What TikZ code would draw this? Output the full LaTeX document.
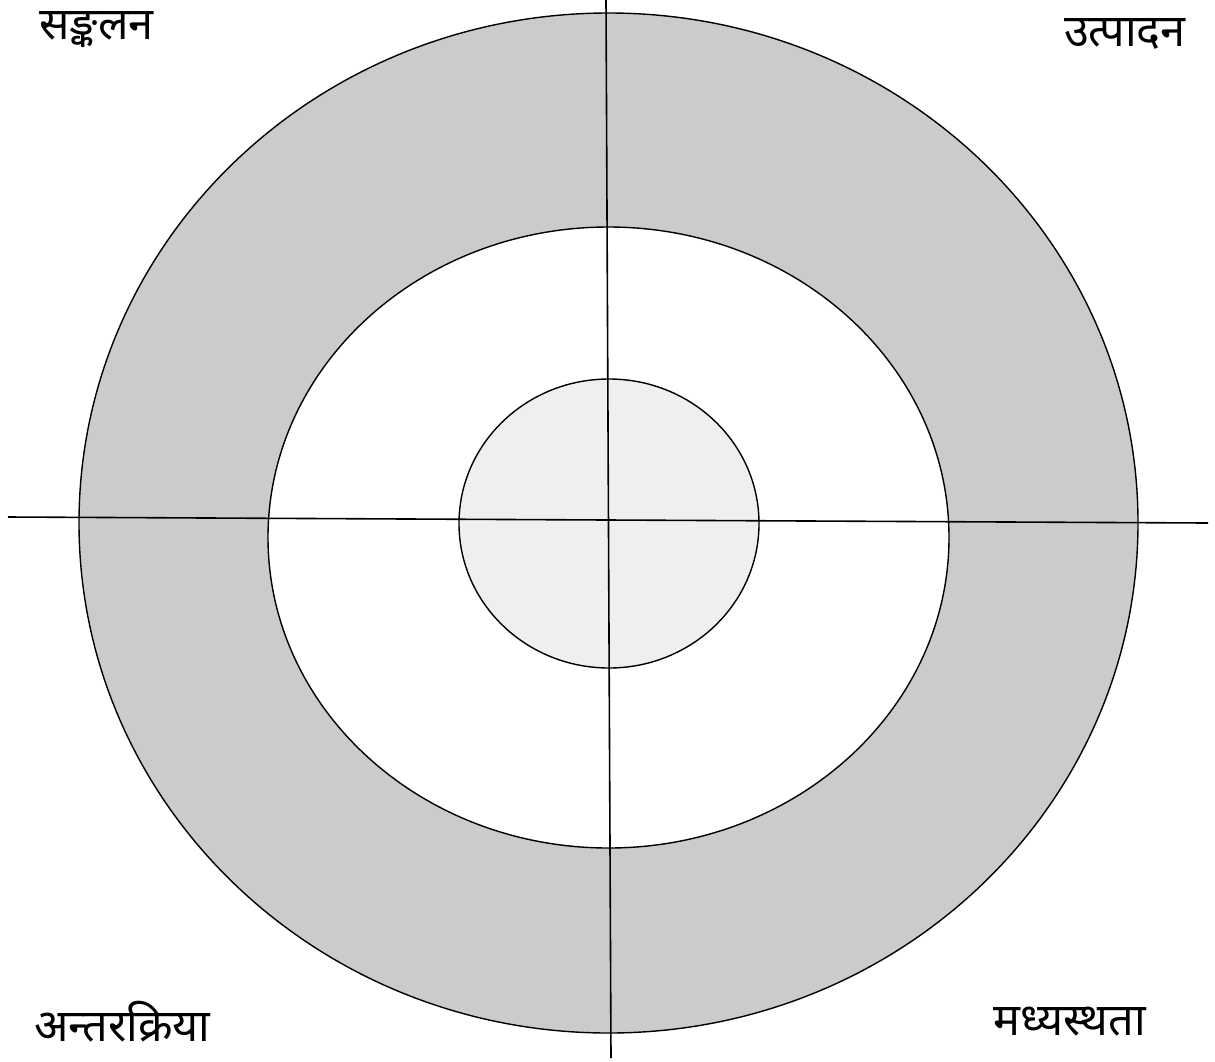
\documentclass[tikz,border=0pt]{standalone}
\usepackage{fontspec}
\newfontfamily\deva[Script=Devanagari]{Noto Sans}
\definecolor{ringgray}{HTML}{CBCBCB}
\definecolor{coregray}{HTML}{EFEFEF}
\begin{document}
\begin{tikzpicture}[x=1pt,y=-1pt,
  ring/.style={draw=black,line width=1.4pt},
  axis/.style={draw=black,line width=1.6pt},
  lbl/.style={font=\deva\fontsize{45}{48}\selectfont,inner sep=0pt}]
\useasboundingbox (0,0) rectangle (1215,1061);
\path[ring,fill=ringgray] (608.5,523) ellipse [x radius=529.5,y radius=510];
\path[ring,fill=white] (608.5,537.5) ellipse [x radius=340.5,y radius=310.5];
\path[ring,fill=coregray] (609,523.5) ellipse [x radius=150,y radius=144.5];
\coordinate (vt) at (606,0);
\coordinate (vb) at (611,1058);
\coordinate (hl) at (8,517);
\coordinate (hr) at (1208,523);
\draw[axis] (vt) -- (vb);
\draw[axis] (hl) -- (hr);
\node[lbl,anchor=west] (tl) at (39,30) {सङ्कलन};
\node[lbl,anchor=east] (tr) at (1186,34) {उत्पादन};
\node[lbl,anchor=west] (bl) at (34,1022) {अन्तरक्रिया};
\node[lbl,anchor=east] (br) at (1146,1022) {मध्यस्थता};
\end{tikzpicture}
\end{document}
